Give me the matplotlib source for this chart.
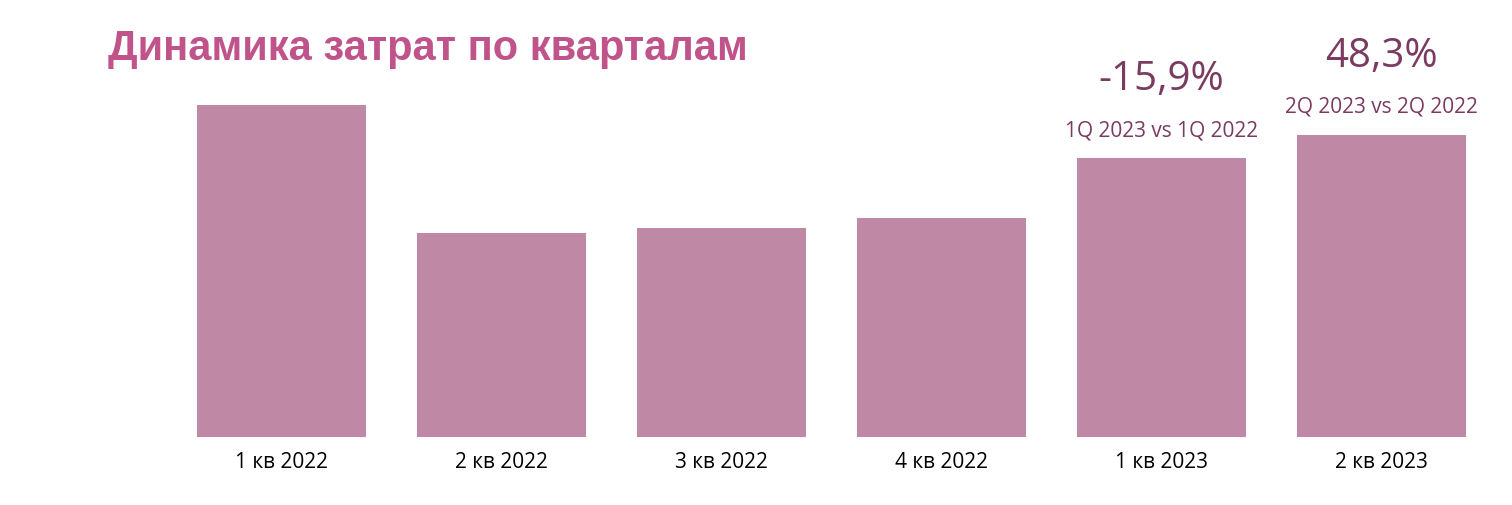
import numpy as np
import matplotlib
matplotlib.use("Agg")
import matplotlib.pyplot as plt

#_________INPUT data_______
quarters = ["1 кв 2022", "2 кв 2022", "3 кв 2022", "4 кв 2022", "1 кв 2023", "2 кв 2023"]
costs = [332, 204, 209, 219, 279, 302]
changes = ["-15,9%", "48,3%"]
change_notes = ["1Q 2023 vs 1Q 2022", "2Q 2023 vs 2Q 2022"]
change_idx = [4, 5]

bar_color = "#BF88A5"
title_color = "#C0548A"
note_color = "#7B3A60"

#_________Figure Style_______________________
plt.rcParams["font.family"] = ["Open Sans", "DejaVu Sans"]
fig = plt.figure(figsize=(15.12, 5.06), dpi=100)
ax = fig.add_axes([171.5/1512, 68/506, 1320/1512, 400/506])

x = np.arange(len(quarters))
ax.bar(x, costs, width=0.77, color=bar_color)
ax.set_xlim(-0.5, 5.5)
ax.set_ylim(0, 400)
ax.set_xticks(x)
ax.set_xticklabels(quarters, fontsize=15)
ax.tick_params(axis="x", length=0, pad=10)
ax.set_yticks([])
for s in ax.spines.values():
    s.set_visible(False)

# change annotations above the last bars (offsets in data units ~ px)
for idx, pct, note in zip(change_idx, changes, change_notes):
    top = costs[idx]
    ax.text(idx, top + 23, note, ha="center", va="baseline", fontsize=15, color=note_color)
    ax.text(idx, top + 69, pct, ha="center", va="baseline", fontsize=29, color=note_color)

fig.text(108/1512, 1 - 60/506, "Динамика затрат по кварталам", ha="left", va="baseline",
         fontsize=30, fontweight="bold", color=title_color, family="Liberation Sans")

fig.savefig("out.png", dpi=100)
